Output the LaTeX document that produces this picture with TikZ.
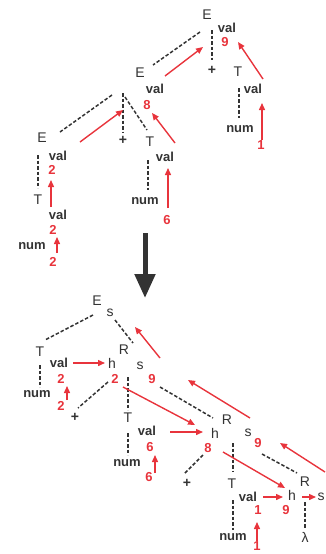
\documentclass[tikz,border=0pt]{standalone}
\usepackage{fontspec}
\setmainfont{Liberation Sans}
\usetikzlibrary{arrows.meta}
\definecolor{ink}{HTML}{333333}
\definecolor{flowred}{HTML}{E8343C}
\begin{document}
\begin{tikzpicture}[x=1pt,y=-1pt,
		symb/.style={text=ink,inner sep=0pt,font=\fontsize{14}{14}\selectfont},
		attr/.style={text=ink,inner sep=0pt,font=\bfseries\fontsize{13}{13}\selectfont},
		redval/.style={text=flowred,inner sep=0pt,font=\bfseries\fontsize{13}{13}\selectfont},
		dep/.style={ink,line width=1.5pt,dash pattern=on 3.5pt off 2pt},
		flow/.style={flowred,line width=1.4pt,-{Triangle[length=7pt,width=6pt]}}]
	\useasboundingbox (0,0) rectangle (326,554);
	\foreach \nm/\x/\y/\t in {E0/207/15/E,E1/140/73/E,T0/238/72/T,E2/42/138/E,T1/150/142/T,T2/38/200/T,
		E3/97/301/E,s0/110/313/s,T3/40/352/T,R0/124/350/R,h0/112/363/h,s1/140/366/s,T4/128/418/T,R1/227/420/R,
		h1/215/433/h,s2/248/433/s,T5/232/484/T,R2/305/482/R,h2/292/495/h,s3/321/497/s,l0/305/537/λ}
	\node[symb] (\nm) at (\x,\y) {\t};
	\foreach \nm/\x/\y in {p0/212/70,p1/123/140,p2/75/417,p3/187/483}
	\node[symb,font=\bfseries\fontsize{14}{14}\selectfont] (\nm) at (\x,\y) {+};
	\foreach \nm/\x/\y/\t in {a0/227/28/val,a1/155/89/val,b0/253/89/val,n0/240/129/num,a2/58/156/val,b1/165/157/val,n1/145/201/num,
		b2/58/215/val,n2/32/246/num,c0/59/363/val,n3/37/394/num,c1/147/431/val,n4/127/463/num,c2/248/497/val,n5/233/537/num}
	\node[attr] (\nm) at (\x,\y) {\t};
	\foreach \nm/\x/\y/\t in {v0/225/42/9,v1/147/105/8,w0/261/145/1,v2/52/170/2,w1/167/220/6,v3/53/230/2,w2/53/262/2,
		u0/61/379/2,x0/61/406/2,k0/115/379/2,q1/152/379/9,u1/150/447/6,x1/149/477/6,k1/208/448/8,q2/258/443/9,
		u2/258/510/1,x2/257/546/1,k2/286/510/9}
	\node[redval] (\nm) at (\x,\y) {\t};
	\foreach \a/\ax/\ay/\b/\bx/\by in {E0/-7/17/E1/13/-8,E0/5/15/p0/0/-10,T0/1/16/n0/-1/-11,E1/-28/22/E2/18/-6,
		E1/-17/20/p1/0/-7,E1/-15/24/T1/-3/-12,T1/-2/18/n1/3/-11,E2/-4/17/T2/0/-12,E3/-4/14/T3/5/-12,s0/5/7/R0/9/-7,
		T3/0/13/n3/3/-7,R0/-16/32/p2/3/-9,R0/4/27/T4/0/-8,R0/36/37/R1/-14/-2,T4/0/15/n4/1/-8,R1/-24/35/p3/-2/-10,
		R1/6/23/T5/1/-12,R1/35/34/R2/-8/-9,T5/1/16/n5/0/-7,R2/0/20/l0/0/-9}
	\draw[dep] ([shift={(\ax,\ay)}]\a.center) -- ([shift={(\bx,\by)}]\b.center);
	\foreach \a/\ax/\ay/\b/\bx/\by in {a1/10/-13/v0/-22/5,b0/10/-10/v0/13/0,w0/1/-5/b0/9/14,a2/22/-14/v1/-24/5,
		b1/10/-14/v1/5/8,w1/1/-12/b1/3/11,b2/-7/-8/v2/-1/10,w2/4/-9/v3/4/7,x0/6/-6/u0/6/7,c0/14/0/h0/-7/0,
		s1/20/-8/s0/25/14,k0/8/8/h1/-20/-8,s2/2/-15/q1/36/1,x1/6/-4/u1/5/8,c1/23/1/h1/-12/-1,k1/15/4/h2/-7/-7,
		s3/4/-25/q2/22/0,x2/0/-5/u2/-1/12,c2/15/0/h2/-9/2,h2/10/2/s3/-5/0}
	\draw[flow] ([shift={(\ax,\ay)}]\a.center) -- ([shift={(\bx,\by)}]\b.center);
	\coordinate (top) at (145,233);
	\coordinate (bot) at (145,298);
	\draw[ink,line width=5pt,-{Triangle[length=24pt,width=20pt]}] (top) -- (bot);
\end{tikzpicture}
\end{document}
